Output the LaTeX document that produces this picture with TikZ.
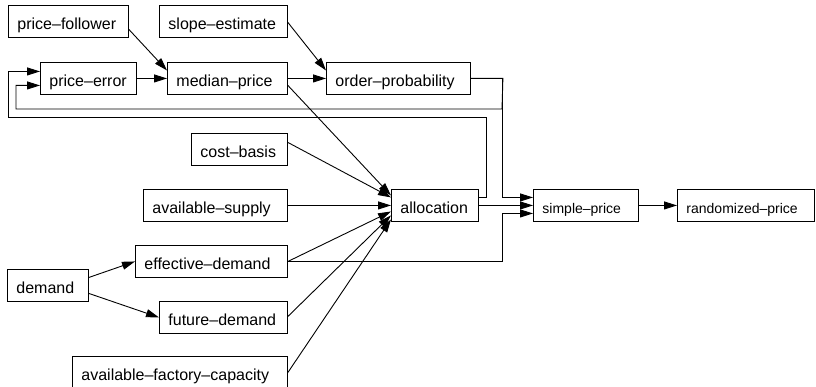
\documentclass[tikz,border=0pt]{standalone}
\usepackage{fontspec}
\setmainfont{Liberation Sans}
\usetikzlibrary{arrows.meta}
\begin{document}
\begin{tikzpicture}[x=1pt,y=-1pt,
  box/.style={draw, line width=0.9pt, anchor=north west, inner xsep=9pt, inner ysep=0pt,
    text height=24pt, text depth=8pt, align=left, font=\fontsize{16}{19}\selectfont},
  smallbox/.style={box, font=\fontsize{14}{17}\selectfont},
  edge/.style={line width=0.9pt, -{Triangle[length=13pt,width=8pt]}}]
\useasboundingbox (0,0) rectangle (816,387);

\node[box, text width=102pt] (pf) at (8,5) {\mbox{price–follower}};
\node[box, text width=110pt] (se) at (159,5) {\mbox{slope–estimate}};
\node[box, text width=78pt] (pe) at (40,62) {\mbox{price–error}};
\node[box, text width=102pt] (mp) at (167,62) {\mbox{median–price}};
\node[box, text width=126pt] (op) at (326,62) {\mbox{order–probability}};
\node[box, text width=78pt] (cb) at (191,133) {\mbox{cost–basis}};
\node[box, text width=126pt] (as) at (143,189) {\mbox{available–supply}};
\node[box, text width=69pt] (al) at (391,189) {\mbox{allocation}};
\node[smallbox, text width=87pt] (sp) at (533,189) {\mbox{simple–price}};
\node[smallbox, text width=119pt] (rp) at (677,189) {\mbox{randomized–price}};
\node[box, text width=134pt] (ed) at (135,245) {\mbox{effective–demand}};
\node[box, text width=63pt] (dm) at (7,269) {\mbox{demand}};
\node[box, text width=110pt] (fd) at (159,301) {\mbox{future–demand}};
\node[box, text width=197pt] (afc) at (72,356) {\mbox{available–factory–capacity}};

\draw[edge] ([yshift=-8pt]pf.east) -- ([yshift=8pt]mp.west);
\draw[edge] ([yshift=-1pt]se.east) -- ([yshift=8pt]op.west);
\draw[edge] (pe.east) -- (mp.west);
\draw[edge] (mp.east) -- (op.west);
\draw[edge] ([yshift=-7pt]mp.east) -- ([yshift=10pt]al.west);
\draw[edge] ([yshift=7pt]cb.east) -- ([yshift=8pt]al.west);
\draw[edge] (as.east) -- (al.west);
\draw[edge] (ed.east) -- ([yshift=-6pt]al.west);
\draw[edge] ([yshift=1pt]fd.east) -- ([yshift=-10pt]al.west);
\draw[edge] (afc.east) -- ([yshift=-14pt]al.west);
\draw[edge] ([yshift=8pt]dm.east) -- (ed.west);
\draw[edge] ([yshift=-8pt]dm.east) -- (fd.west);

\draw[edge] (op.east) -- ++(32,0) |- ([yshift=8pt]sp.west);
\draw[edge] (op.east) -- ++(32,0) -- (502,109) -- (16,109) |- ([yshift=-7pt]pe.west);
\draw[edge] ([yshift=8pt]al.east) -| (486,117) -- (8,117) |- ([yshift=7pt]pe.west);
\draw[edge] (al.east) -- (sp.west);
\draw[edge] (ed.east) -| ([xshift=-31pt,yshift=-8pt]sp.west) -- ([yshift=-8pt]sp.west);
\draw[edge] (sp.east) -- (rp.west);
\end{tikzpicture}
\end{document}
